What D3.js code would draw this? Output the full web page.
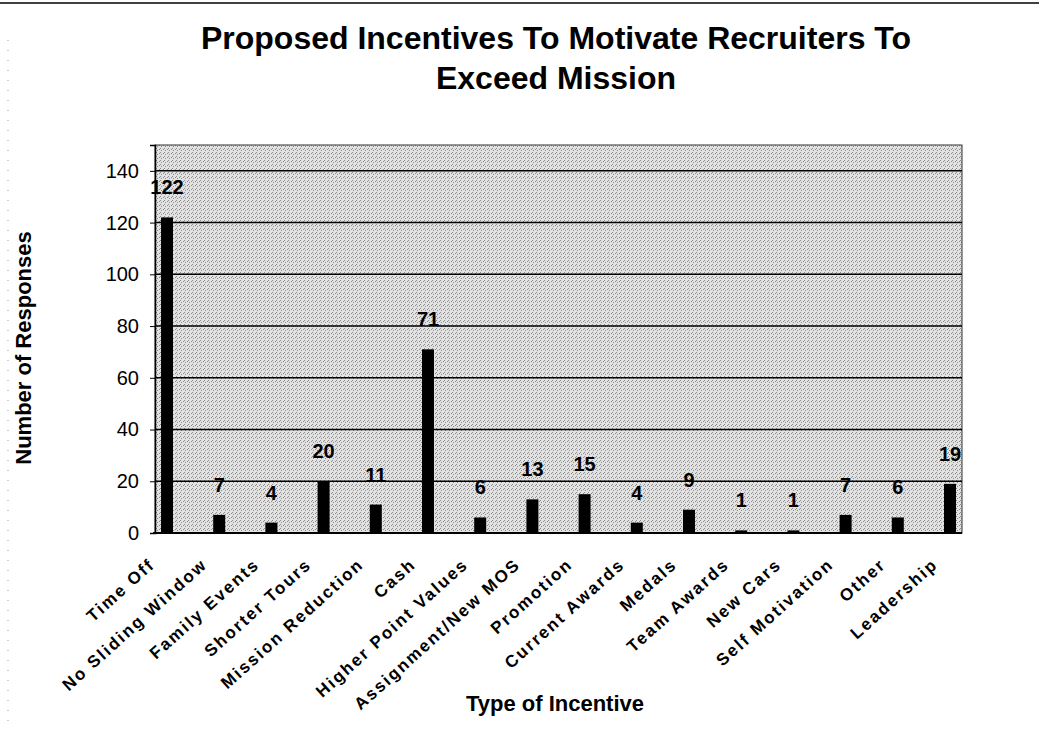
<!DOCTYPE html>
<html>
<head>
<meta charset="utf-8">
<script src="https://cdn.jsdelivr.net/npm/d3@7"></script>
<style>
  body { margin: 0; background: #fff; }
  svg { display: block; }
  text { font-family: Arial, "Liberation Sans", sans-serif; fill: #000; }
</style>
</head>
<body>
<svg id="chart" width="1039" height="729"></svg>
<script>
// chart data
const categories = ["Time Off", "No Sliding Window", "Family Events", "Shorter Tours",
  "Mission Reduction", "Cash", "Higher Point Values", "Assignment/New MOS", "Promotion",
  "Current Awards", "Medals", "Team Awards", "New Cars", "Self Motivation", "Other", "Leadership"];
const responses = [122, 7, 4, 20, 11, 71, 6, 13, 15, 4, 9, 1, 1, 7, 6, 19];
const yTicks = [0, 20, 40, 60, 80, 100, 120, 140];
const yMax = 150;

const svg = d3.select("#chart");
const W = 1039, H = 729;
const margin = { top: 145, right: 77, bottom: 196, left: 155 };
const width = W - margin.left - margin.right;
const height = H - margin.top - margin.bottom;

// halftone-like background for the plot area
const defs = svg.append("defs");
const pat = defs.append("pattern")
    .attr("id", "stipple")
    .attr("width", 4).attr("height", 4)
    .attr("patternUnits", "userSpaceOnUse");
pat.append("rect").attr("width", 4).attr("height", 4).attr("fill", "#e2e2e2");
[[0, 0], [2, 1], [1, 3]].forEach(p => {
  pat.append("rect").attr("x", p[0]).attr("y", p[1])
     .attr("width", 1).attr("height", 1).attr("fill", "#8c8c8c");
});

// page frame bits
svg.append("line")
    .attr("x1", 0).attr("x2", W).attr("y1", 3).attr("y2", 3)
    .attr("stroke", "#000").attr("stroke-width", 1.5);
svg.append("line")
    .attr("x1", 8).attr("x2", 8).attr("y1", 40).attr("y2", H)
    .attr("stroke", "#999").attr("stroke-width", 1)
    .attr("stroke-dasharray", "1,9");

// title
svg.append("text")
    .attr("x", 556).attr("y", 49)
    .attr("text-anchor", "middle")
    .style("font-size", "32px").style("font-weight", "bold")
    .text("Proposed Incentives To Motivate Recruiters To");
svg.append("text")
    .attr("x", 556).attr("y", 89)
    .attr("text-anchor", "middle")
    .style("font-size", "32px").style("font-weight", "bold")
    .text("Exceed Mission");

const g = svg.append("g")
    .attr("transform", "translate(" + margin.left + "," + margin.top + ")");

var x = d3.scalePoint()
    .domain(categories)
    .range([12, 795]);

var y = d3.scaleLinear()
    .domain([0, yMax])
    .range([height, 0]);

const barW = 12;

g.append("rect")
    .attr("width", width).attr("height", height)
    .attr("fill", "url(#stipple)")
    .attr("stroke", "#333").attr("stroke-width", 1);

// gridlines
g.append("g")
    .selectAll("line")
    .data(yTicks.filter(d => d > 0))
    .join("line")
    .attr("x1", 0).attr("x2", width)
    .attr("y1", d => y(d)).attr("y2", d => y(d))
    .attr("stroke", "#000").attr("stroke-width", 1.5);

// y axis
const yAxis = g.append("g")
    .call(d3.axisLeft(y).tickValues(yTicks).tickSize(5).tickPadding(11));
yAxis.select(".domain").attr("stroke", "#000").attr("stroke-width", 1.5);
yAxis.selectAll(".tick text")
    .style("font-size", "20px")
    .style("font-family", "Arial, 'Liberation Sans', sans-serif");

// bars
g.selectAll(".bar")
    .data(responses)
    .join("rect")
    .attr("class", "bar")
    .attr("x", (d, i) => x(categories[i]) - barW / 2)
    .attr("y", d => y(d))
    .attr("width", barW)
    .attr("height", d => height - y(d))
    .attr("fill", "#000");

// value labels
g.selectAll(".val")
    .data(responses)
    .join("text")
    .attr("class", "val")
    .attr("x", (d, i) => x(categories[i]))
    .attr("y", d => y(d) - 23)
    .attr("text-anchor", "middle")
    .style("font-size", "20px").style("font-weight", "bold")
    .text(d => d);

// x axis baseline
g.append("line")
    .attr("x1", -2).attr("x2", width)
    .attr("y1", height).attr("y2", height)
    .attr("stroke", "#000").attr("stroke-width", 2);

// category labels
g.selectAll(".cat")
    .data(categories)
    .join("text")
    .attr("class", "cat")
    .attr("transform", d => "translate(" + (x(d) - 11) + "," + (height + 33) + ") rotate(-42)")
    .attr("text-anchor", "end")
    .style("font-size", "17px").style("font-weight", "bold")
    .style("letter-spacing", "2px")
    .text(d => d);

// axis titles
svg.append("text")
    .attr("x", 555).attr("y", 711)
    .attr("text-anchor", "middle")
    .style("font-size", "22px").style("font-weight", "bold")
    .text("Type of Incentive");

svg.append("text")
    .attr("transform", "translate(31," + 348 + ") rotate(-90)")
    .attr("text-anchor", "middle")
    .style("font-size", "22px").style("font-weight", "bold")
    .text("Number of Responses");
</script>
</body>
</html>
